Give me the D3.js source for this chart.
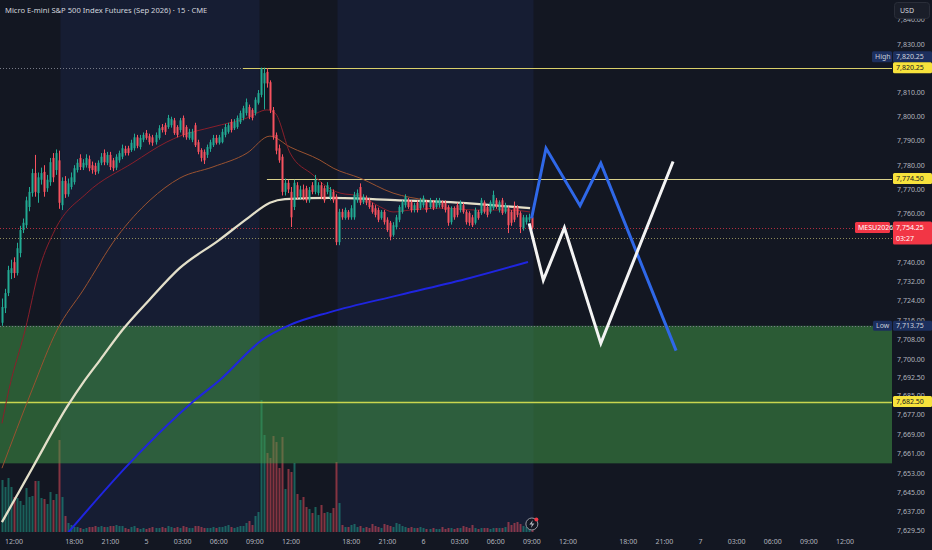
<!DOCTYPE html>
<html><head><meta charset="utf-8">
<script src="https://cdn.jsdelivr.net/npm/d3@7"></script>
<style>
html,body{margin:0;padding:0;background:#131722;overflow:hidden}
svg{display:block}
text{font-family:"Noto Sans",sans-serif}
</style></head><body>
<svg id="c" width="932" height="550"></svg>
<script>
const title = "Micro E-mini S&P 500 Index Futures (Sep 2026) · 15 · CME";

const opens = [7715,7721,7727.25,7735.5,7740,7735.5,7743.75,7753.25,7755.25,7762.75,
7768.5,7776.75,7768.5,7774,7777.25,7770.5,7773,7783,7778,7782,
7763.5,7773.5,7768,7771,7773,7778,7783,7779,7780,7782.5,
7780,7779.75,7777.5,7781,7785,7781,7784.25,7782,7779,7782,
7783.5,7786.75,7787,7786.25,7787,7791.5,7787.5,7790.5,7793.25,7792,
7791.5,7789.5,7791.25,7795.75,7796.5,7795.75,7796.5,7798.5,7795.75,7794.5,
7799.5,7795.75,7791.25,7790.5,7796.5,7789.5,7786.25,7785.5,7784.25,7786.75,
7788.25,7791.25,7789.25,7789.5,7792.5,7793.75,7797.75,7795.25,7795.75,7797.75,
7799.5,7801.5,7804,7802.75,7801.5,7805.75,7809,7813.75,7818.5,7814.25,
7802.75,7792.5,7787,7783.5,7769,7772.75,7769,7762.75,7771.75,7767,
7770,7770.5,7765.5,7771.75,7769,7768.5,7771.75,7770.5,7769,7766.5,
7769,7767,7748.25,7760.75,7758.25,7760.75,7758.5,7758.5,7765.5,7771,
7764.75,7766.5,7765.5,7763.5,7762.25,7761.5,7758.25,7760.75,7757.5,7756.25,
7751.25,7754.5,7757.5,7760.75,7763.5,7765.5,7764.75,7761.5,7764.5,7762.25,
7763.5,7764.75,7762.75,7764.75,7762.75,7763.5,7764.75,7764.5,7762.75,7756.5,
7762.25,7763.5,7761.5,7763.5,7760.75,7760.25,7758.5,7756.25,7760.75,7760.25,
7764.75,7762.75,7760.75,7762.25,7765.5,7761.5,7765.5,7760.75,7762.25,7760.75,
7762.75,7762.75,7760.25,7754,7756.5,7757.5,7758.5];

const closes = [7721.5,7727.25,7736.75,7737.5,7735.5,7745.75,7753.25,7756.25,7765.5,7769,
7776.75,7769,7775,7776.75,7769,7774,7781.25,7775,7785,7764.5,
7773.5,7768,7772.5,7775,7778.75,7781,7779.25,7781,7783,7778.75,
7778,7777.25,7781,7783.5,7781.25,7784.25,7779.25,7778.75,7783.5,7785,
7787,7785,7785,7789.25,7791.5,7788,7791.25,7792.5,7791.25,7789.5,
7789.25,7792.5,7795.25,7794.5,7793.75,7799.5,7799,7793.25,7792.5,7798.5,
7792.5,7791.5,7793.75,7793.75,7788.25,7785.5,7783,7782,7787.5,7789.5,
7791.25,7789.25,7791.5,7793.75,7795.75,7796.5,7794.5,7797.75,7799.5,7801.5,
7803.5,7806,7800,7799.5,7807,7809.75,7820,7818,7813.75,7802.75,
7791.5,7786,7782,7769,7772.75,7770,7758.5,7772.75,7767,7770,
7766.5,7765.5,7769.75,7769,7774,7771.75,7767,7765.5,7771.75,7769.75,
7765.5,7748.25,7760.75,7758.5,7761.5,7758.5,7762.25,7767.75,7768.5,7764.5,
7767,7764.5,7762.75,7760.75,7759.5,7757.5,7760.75,7756.5,7753.25,7750.5,
7755.25,7758.5,7762.75,7764.75,7767,7762.75,7761.5,7763.5,7761.5,7765.5,
7766.5,7761.5,7765.5,7762.25,7765.5,7765.5,7762.75,7761.5,7756.25,7762.25,
7758.5,7759.5,7764.5,7760.75,7756.5,7756.25,7755.25,7761.5,7758.25,7765.5,
7760.75,7759.5,7764.75,7767.75,7762.75,7764.75,7760.25,7763.5,7755.25,7756.25,
7757.5,7759.5,7754.5,7758.5,7758.5,7758.5,7754.25];

const highs = [7725,7729,7738.5,7741,7742,7748,7755,7758,7767,7771,
7778.5,7784.25,7777,7779,7780,7776,7783,7785,7786.5,7786,
7775,7775.5,7774.5,7777,7780,7782.5,7784.5,7782.5,7784.5,7784,
7781.5,7781,7782,7785,7786.5,7785.5,7785.5,7783,7784.5,7786,
7788.5,7788,7788,7790.5,7793,7792.5,7792.5,7793.5,7794.5,7793,
7792.5,7793.5,7796.5,7797,7797.5,7800.75,7800,7799.5,7796.5,7799.5,
7800.5,7796.5,7795,7795,7797.5,7790.5,7787,7786.5,7788.5,7790.5,
7792.5,7792.5,7792.5,7795,7797,7797.5,7799,7799,7800.5,7802.5,
7804.5,7807.5,7805,7803.5,7808,7811,7820.25,7820.25,7820,7815,
7804,7793.5,7788.5,7784.5,7774.5,7774,7771,7774,7773,7771.5,
7772,7771.5,7771,7773,7776,7773,7773,7771.5,7773,7771,
7770,7768,7762,7762,7762.5,7761.5,7763.5,7769,7770,7772.5,
7768,7767.5,7766.5,7764.5,7763.5,7762.5,7761.5,7761.5,7758.5,7757,
7756.5,7759.5,7763.5,7765.5,7768,7766.5,7765.5,7764.5,7765.5,7766.5,
7767.5,7765.5,7766.5,7765.5,7766.5,7766.5,7765.5,7765.5,7763.5,7763,
7763,7764.5,7765.5,7764.5,7761.5,7761,7759.5,7762.5,7761.5,7766.5,
7765.5,7763.5,7765.5,7769.5,7766.5,7765.5,7766.5,7764.5,7763,7761.5,
7765,7763.5,7761,7759.5,7759.5,7760,7759.5];

const lows = [7713.75,7719,7726,7733,7733.5,7734.5,7742,7752,7754,7761,
7767,7767,7764.5,7772,7767,7769,7771.5,7773,7776,7762,
7761.5,7766.5,7767,7770,7772,7777,7778,7778,7779,7777.5,
7776.5,7776,7776.5,7780,7780,7780,7778,7777.5,7778,7781,
7782.5,7784,7784,7785.5,7786,7787,7786.5,7789.5,7790.5,7788.5,
7788,7788.5,7790.5,7793.5,7792.5,7795,7795.5,7792.5,7791.5,7793.5,
7791.5,7790.5,7790.5,7789.5,7787.5,7784.5,7781.5,7780.5,7783,7785.5,
7787.5,7788.5,7788.5,7789,7791.5,7793,7793.5,7794.5,7795,7797,
7798.5,7800.5,7799,7798.5,7800.5,7805,7808,7803,7812,7801.5,
7790.5,7784.5,7781,7767.5,7767.5,7768.5,7754.5,7761.5,7766,7766,
7765.5,7764.5,7764.5,7768,7768,7767.5,7766,7764.5,7768,7765.5,
7764.5,7747,7747,7757.5,7757.5,7757.5,7757.5,7757.5,7764.5,7763.5,
7764,7763.5,7762,7760,7758.5,7756.5,7757.5,7755.5,7752.5,7749,
7750.5,7753.5,7756.5,7760,7762.5,7762,7760.5,7760.5,7760.5,7761.5,
7762.5,7760.5,7762,7761.5,7762,7762.5,7762,7760.5,7755,7755.5,
7757.5,7758.5,7760.5,7760,7755.5,7755,7754.5,7755.5,7757.5,7759.5,
7760,7758.5,7760,7761.5,7762,7760.5,7759.5,7760,7752,7755,
7756.5,7758.5,7752,7753,7755.5,7756.5,7753.5];

const volumes = [520,450,540,450,350,340,310,270,440,350,
360,510,510,340,330,280,400,320,380,920,
350,160,90,70,50,50,40,30,40,50,
50,60,50,60,50,50,60,60,70,60,
60,40,30,50,60,40,30,40,30,40,
50,40,40,50,40,60,50,40,50,40,
60,50,40,40,60,60,50,40,40,40,
50,40,50,50,60,70,50,40,50,60,
60,90,110,70,160,200,1320,970,790,740,
960,900,640,950,430,630,600,690,380,320,
350,250,230,190,250,170,270,190,200,190,
240,700,290,70,50,50,70,80,50,60,
40,50,40,80,60,50,40,80,70,60,
50,90,80,60,50,40,50,40,40,50,
40,30,30,40,30,30,50,30,40,40,
30,40,40,60,50,40,70,40,30,40,
40,40,30,40,40,40,40,50,100,70,
90,100,80,60,50,60,40];

// moving averages read at sample bars: [barIndex, price]
const emaFast = [[0,7673.5],[2.3,7687.3],[7.7,7712],[12.6,7738],[17.6,7753.3],[28.2,7768.5],[43.5,7781],[54.8,7789.6],[59.1,7792],[70.1,7795.8],[81.4,7799.5],[88,7802.8],[90.7,7801.5],[95.7,7785],[103.3,7776],[108,7771],[112.3,7768.5],[118.9,7767.3],[125.6,7762.8],[129.9,7760.7],[135.5,7761.5],[146.5,7762.3],[157.8,7761.5],[168.7,7761.5],[175.4,7760.7]];
const emaMid = [[0,7655],[10,7687.3],[18.3,7712],[27,7728.5],[38.2,7750.4],[49.2,7765.6],[59.1,7774.7],[70.1,7779.3],[81.4,7785],[89,7792],[95.7,7787.5],[105.6,7782.1],[110,7778.8],[118.9,7774.7],[129.9,7768.5],[141.2,7765.6],[152.1,7764.4],[174.4,7762.3]];
const emaSlow = [[0,7632.75],[6,7646],[10.3,7655.5],[21.6,7680.25],[27.6,7691.4],[32.5,7699.5],[40,7712],[49,7724.5],[59,7737.5],[72,7749],[82,7758.5],[89,7764.5],[94,7766],[109,7766.5],[132,7765.5],[149,7764.75],[165.4,7763.25],[175.4,7762.25]];
const vwapLine = [[21.9,7628.3],[42.5,7657.2],[64.1,7683.1],[72.4,7691.4],[86.4,7707.9],[95.7,7714.1],[109,7719.4],[132.2,7726.5],[155.4,7733.5],[174.7,7740.1]];

// drawn projections [barIndex, price]
const projBlue = [[175.9,7758.1],[180.7,7787],[192,7763.3],[198.9,7780.8],[223.9,7703.5]];
const projWhite = [[175.1,7756],[179.8,7732.6],[186.8,7754.2],[198.9,7706.5],[222.9,7781.5]];

const overnightSessions = [[20,85],[112,176]];
const zone = {top:7713.75, bottom:7657};
const highPrice = 7820.25, lowPrice = 7713.75, lastPrice = 7754.25, prevLevel = 7750;
const rayHigh = {price:7820.25, from:80};
const rayMid = {price:7774.5, from:88};
const levelZone = 7682.5;

const priceTicks = [7840,7830,7810,7800,7790,7780,7770,7760,7740,7732,7724,7716,7708,7700,7692.5,7685,7677,7669,7661,7653,7645,7637,7629.5];
const timeTicks = [[4,"12:00"],[24,"18:00"],[36,"21:00"],[48,"5"],[60,"03:00"],[72,"06:00"],[84,"09:00"],[96,"12:00"],[116,"18:00"],[128,"21:00"],[140,"6"],[152,"03:00"],[164,"06:00"],[176,"09:00"],[188,"12:00"],[208,"18:00"],[220,"21:00"],[232,"7"],[244,"03:00"],[256,"06:00"],[268,"09:00"],[280,"12:00"]];

const UP="#22ab94", DN="#f7525f";
const plotR=892, plotB=532;
const svg=d3.select("#c");
const x=d3.scaleLinear().domain([4,280]).range([14,845]);
const y=d3.scaleLinear().domain([7629.5,7830]).range([530,44]);
const vh=d3.scaleLinear().domain([0,d3.max(volumes)]).range([0,132]);
const fmt=d3.format(",.2f");

svg.append("rect").attr("width",932).attr("height",550).attr("fill","#131722");
svg.append("defs").append("clipPath").attr("id","pc").append("rect").attr("width",plotR).attr("height",plotB);
const g=svg.append("g").attr("clip-path","url(#pc)");

// session bands
g.selectAll(".band").data(overnightSessions).join("rect")
 .attr("x",d=>Math.round(x(d[0]))-1.5).attr("width",d=>Math.round(x(d[1]))-Math.round(x(d[0]))+3)
 .attr("y",0).attr("height",plotB).attr("fill","#161d33");

// volume
const bars=d3.range(opens.length);
g.selectAll(".vol").data(bars).join("rect")
 .attr("x",i=>Math.round(x(i))-0.5).attr("width",2)
 .attr("y",i=>plotB-vh(volumes[i])).attr("height",i=>vh(volumes[i]))
 .attr("fill",i=>closes[i]>=opens[i]?"rgba(34,171,148,0.5)":"rgba(247,82,95,0.5)");

// zone
g.append("rect").attr("x",0).attr("width",plotR).attr("y",y(zone.top)).attr("height",y(zone.bottom)-y(zone.top))
 .attr("fill","rgba(67,160,71,0.5)");

// horizontal levels
function hline(p,x0,stroke,dash,w){
  g.append("line").attr("x1",x0).attr("x2",plotR).attr("y1",Math.round(y(p))+0.5).attr("y2",Math.round(y(p))+0.5)
   .attr("stroke",stroke).attr("stroke-width",w||1).attr("stroke-dasharray",dash||null);
}
hline(highPrice,0,"#787b86","1,2");
hline(rayHigh.price,x(rayHigh.from),"#d9cf6a");
hline(rayMid.price,x(rayMid.from),"#d9d18c");
hline(lastPrice,0,"#b2303f","1,2");
hline(prevLevel,0,"#8e8a5a","1,2");
hline(lowPrice,0,"#787b86","1,2");
hline(levelZone,0,"#c9d64f",null,1.5);

// lines
const ln=d3.line().x(d=>x(d[0])).y(d=>y(d[1])).curve(d3.curveMonotoneX);
g.append("path").attr("d",ln(vwapLine)).attr("fill","none").attr("stroke","#1f25e0").attr("stroke-width",2);
g.append("path").attr("d",ln(emaMid)).attr("fill","none").attr("stroke","#9a5230").attr("stroke-width",1);
g.append("path").attr("d",ln(emaFast)).attr("fill","none").attr("stroke","#8a1f2b").attr("stroke-width",1);
g.append("path").attr("d",ln(emaSlow)).attr("fill","none").attr("stroke","#e3dfc9").attr("stroke-width",2.3);

// candles
const cg=g.append("g");
cg.selectAll(".w").data(bars).join("line")
 .attr("x1",i=>Math.round(x(i))+0.5).attr("x2",i=>Math.round(x(i))+0.5)
 .attr("y1",i=>y(highs[i])).attr("y2",i=>y(lows[i]))
 .attr("stroke",i=>closes[i]>=opens[i]?UP:DN).attr("stroke-width",1);
cg.selectAll(".b").data(bars).join("rect")
 .attr("x",i=>Math.round(x(i))-0.5).attr("width",2)
 .attr("y",i=>y(Math.max(opens[i],closes[i])))
 .attr("height",i=>Math.max(1,Math.abs(y(opens[i])-y(closes[i]))))
 .attr("fill",i=>closes[i]>=opens[i]?UP:DN);

// projections
const pl=d3.line().x(d=>x(d[0])).y(d=>y(d[1]));
g.append("path").attr("d",pl(projBlue)).attr("fill","none").attr("stroke","#2f68e8").attr("stroke-width",3).attr("stroke-linejoin","miter");
g.append("path").attr("d",pl(projWhite)).attr("fill","none").attr("stroke","#f4f4f4").attr("stroke-width",3).attr("stroke-linejoin","miter");

// replay icon
const ic=svg.append("g").attr("transform",`translate(${x(176)},524)`);
ic.append("circle").attr("r",6).attr("fill","#131722").attr("stroke","#9598a1").attr("stroke-width",1);
ic.append("path").attr("d","M1,-4 L-2.5,0.5 L0,0.5 L-1,4 L2.5,-0.5 L0,-0.5 Z").attr("fill","#b2b5be");
ic.append("circle").attr("cx",4.5).attr("cy",-4.5).attr("r",2).attr("fill","#f23645");

// title
svg.append("text").attr("x",5).attr("y",12.5).attr("font-size",7.6).attr("fill","#d1d4dc").text(title);

// price axis
svg.selectAll(".pt").data(priceTicks).join("text")
 .attr("x",897).attr("y",d=>y(d)+2.5).attr("font-size",7).attr("fill","#b2b5be")
 .text(d=>fmt(d));

// time axis
svg.selectAll(".tt").data(timeTicks).join("text")
 .attr("x",d=>x(d[0])).attr("y",544).attr("text-anchor","middle").attr("font-size",7).attr("fill","#b2b5be").text(d=>d[1]);

// labels
function box(x0,yc,w,h,fill,txt,col){
  svg.append("rect").attr("x",x0).attr("y",yc-h/2).attr("width",w).attr("height",h).attr("rx",1.5).attr("fill",fill);
  svg.append("text").attr("x",x0+3).attr("y",yc+2.5).attr("font-size",7).attr("fill",col).text(txt);
}
const yH=y(highPrice);
box(872,yH-11,20,11,"#1c2f5e","High","#c9cdd8");
box(893,yH-11,39,11,"#1c2f5e",fmt(highPrice),"#d1d4dc");
box(893,yH,39,11,"#f7e23c",fmt(rayHigh.price),"#131722");
box(893,y(rayMid.price),39,11,"#f7e23c",fmt(rayMid.price),"#131722");
box(893,y(levelZone),39,11,"#f7e23c",fmt(levelZone),"#131722");
box(873,y(lowPrice),19,10,"#1c2f5e","Low","#c9cdd8");
box(893,y(lowPrice),39,10,"#1c2f5e",fmt(lowPrice),"#d1d4dc");
const yL=y(lastPrice);
box(855,yL,35,11,"#f23645","MESU2026","#ffffff");
svg.append("rect").attr("x",893).attr("y",yL-6).attr("width",39).attr("height",23).attr("rx",1.5).attr("fill","#f23645");
svg.append("text").attr("x",896).attr("y",yL+2.5).attr("font-size",7).attr("fill","#ffffff").text(fmt(lastPrice));
svg.append("text").attr("x",896).attr("y",yL+13).attr("font-size",7).attr("fill","#ffffff").text("03:27");

// USD button
svg.append("rect").attr("x",894.5).attr("y",2.5).attr("width",35).attr("height",16).attr("rx",3).attr("fill","#1a1e29").attr("stroke","#2a2e39");
svg.append("text").attr("x",900).attr("y",13).attr("font-size",7).attr("fill","#d1d4dc").text("USD");
</script>
</body></html>
